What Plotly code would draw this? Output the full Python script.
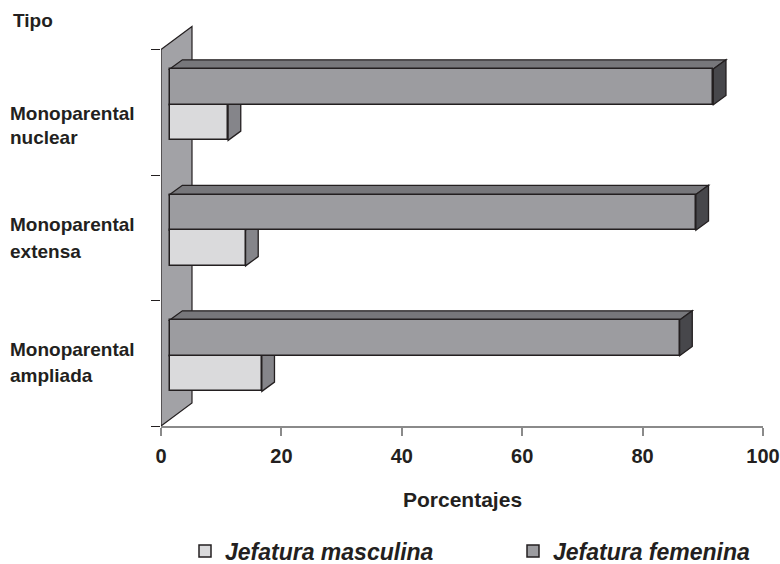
import plotly.graph_objects as go

# Household types, listed bottom-to-top on the category axis
categories = ["Monoparental ampliada", "Monoparental extensa", "Monoparental nuclear"]
label_lines = [("Monoparental", "ampliada"), ("Monoparental", "extensa"), ("Monoparental", "nuclear")]

# Share of households by sex of the head (%)
masculina = [15.3, 12.6, 9.7]
femenina = [84.7, 87.4, 90.3]

x_ticks = [0, 20, 40, 60, 80, 100]

# Colours
INK = "#231f20"
C_MASC = "#dadadc"
C_MASC_SIDE = "#85858a"
C_FEM = "#9c9ca0"
C_FEM_TOP = "#77777b"
C_FEM_SIDE = "#47474b"
C_WALL = "#a2a2a6"
C_AXIS = "#8a8a8a"
FONT = "Arial, Liberation Sans, sans-serif"

# Pseudo-3D geometry (axis units)
WALL_DX, WALL_DY = 5.15, 0.183     # depth of the back wall
X0, Y0 = 1.45, 0.06                # front face offset of the bars
DX, DY = 2.1, 0.074                # depth of each bar
BAR_H = 0.284                      # thickness of one bar

shapes = []

def poly(xs, ys, color, width=1.3):
    path = "M " + " L ".join(f"{x},{y}" for x, y in zip(xs, ys)) + " Z"
    shapes.append(dict(type="path", path=path, xref="x", yref="y", layer="below",
                       fillcolor=color, line=dict(color=INK, width=width)))

# back wall
n = len(categories)
poly([0, 0, WALL_DX, WALL_DX], [0, n, n + WALL_DY, WALL_DY], C_WALL, 1.2)

# depth faces (top and end) of each bar, under the front faces
def depth_faces(value, y_bot, y_top, top_col, side_col):
    x1 = X0 + value
    poly([X0, X0 + DX, x1 + DX, x1], [y_top, y_top + DY, y_top + DY, y_top], top_col)
    poly([x1, x1, x1 + DX, x1 + DX], [y_bot, y_top, y_top + DY, y_bot + DY], side_col)

centers = [i + 0.5 + Y0 for i in range(n)]
for c, v in zip(centers, masculina):
    depth_faces(v, c - BAR_H, c, C_MASC_SIDE, C_MASC_SIDE)
for c, v in zip(centers, femenina):
    depth_faces(v, c, c + BAR_H, C_FEM_TOP, C_FEM_SIDE)

fig = go.Figure()

# front faces as real bars
fig.add_trace(go.Bar(
    name="Jefatura masculina", orientation="h", legend="legend",
    y=[c - BAR_H / 2 for c in centers], x=masculina, base=X0, width=BAR_H,
    marker=dict(color=C_MASC, line=dict(color=INK, width=1.5)),
    customdata=categories, hovertemplate="%{customdata}: %{x}%<extra></extra>"))
fig.add_trace(go.Bar(
    name="Jefatura femenina", orientation="h", legend="legend2",
    y=[c + BAR_H / 2 for c in centers], x=femenina, base=X0, width=BAR_H,
    marker=dict(color=C_FEM, line=dict(color=INK, width=1.5)),
    customdata=categories, hovertemplate="%{customdata}: %{x}%<extra></extra>"))

# category labels (two lines each), positioned in pixel rows
label_rows = [(349.5, 375.5), (224.0, 251.5), (113.5, 137.5)]
annotations = []
for (l1, l2), (r1, r2) in zip(label_lines, label_rows):
    for txt, row in ((l1, r1), (l2, r2)):
        annotations.append(dict(
            text=txt, xref="paper", yref="paper",
            x=(8 - 161) / 602, y=(426 - row) / 406,
            xanchor="left", yanchor="middle", showarrow=False,
            font=dict(family=FONT, size=19, color=INK, weight="bold")))
annotations.append(dict(
    text="Tipo", xref="paper", yref="paper", x=(11 - 161) / 602, y=(426 - 20.5) / 406,
    xanchor="left", yanchor="middle", showarrow=False,
    font=dict(family=FONT, size=19, color=INK, weight="bold")))
annotations.append(dict(
    text="Porcentajes", xref="paper", yref="paper", x=0.5, y=(426 - 500) / 406,
    xanchor="center", yanchor="middle", showarrow=False,
    font=dict(family=FONT, size=21, color=INK, weight="bold")))

legend_font = dict(family=FONT, size=23, color=INK, weight="bold", style="italic")

fig.update_layout(
    width=780, height=564,
    margin=dict(l=161, r=17, t=20, b=138, autoexpand=False),
    paper_bgcolor="white", plot_bgcolor="white",
    barmode="overlay", bargap=0,
    showlegend=True,
    legend=dict(orientation="h", xref="container", yref="container",
                x=185 / 780, y=1 - 551 / 564, xanchor="left", yanchor="middle",
                font=legend_font),
    legend2=dict(orientation="h", xref="container", yref="container",
                 x=513 / 780, y=1 - 551 / 564, xanchor="left", yanchor="middle",
                 font=legend_font),
    xaxis=dict(range=[0, 100], tickvals=x_ticks, ticktext=[str(t) for t in x_ticks],
               showgrid=False, zeroline=False, showline=True, linecolor=C_AXIS, linewidth=1.5,
               ticks="outside", ticklen=8, tickcolor=C_AXIS, tickwidth=1.5,
               ticklabelstandoff=3,
               tickfont=dict(family=FONT, size=20, color=INK, weight="bold")),
    yaxis=dict(range=[0, 3.235], tickvals=[0, 1, 2, 3], showticklabels=False,
               showgrid=False, zeroline=False, showline=False,
               ticks="outside", ticklen=9, tickcolor=INK, tickwidth=1.3),
    annotations=annotations,
    shapes=shapes,
)

fig.write_html("out.html")
